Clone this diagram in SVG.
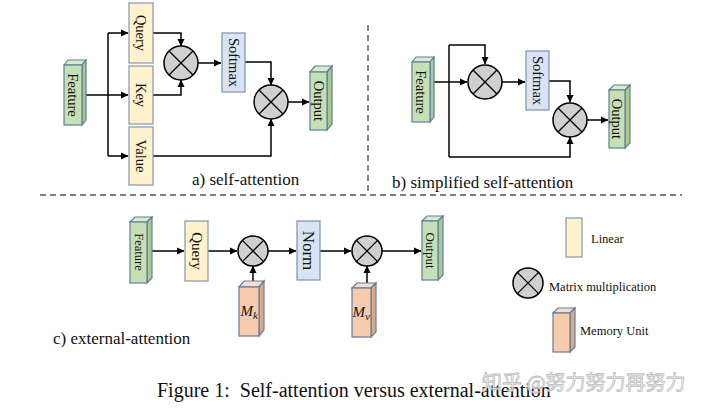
<svg xmlns="http://www.w3.org/2000/svg" width="720" height="413" viewBox="0 0 720 413" font-family="'Liberation Serif','Times New Roman',serif">
<defs>
<marker id="ah" markerUnits="userSpaceOnUse" markerWidth="8" markerHeight="8" refX="7" refY="4" orient="auto">
<path d="M0,0.5 L7.5,4 L0,7.5 z" fill="#000"/>
</marker>
<style>
.conn path{fill:none;stroke:#000;stroke-width:1.5;marker-end:url(#ah)}
.conn .nb{marker-end:none}
.lin{fill:#fff2cc;stroke:#8497b0;stroke-width:1.2}
.nrm{fill:#dae3f3;stroke:#7f8fb0;stroke-width:1.2}
.gf{fill:#c5e0b4;stroke:#5f7f9f;stroke-width:1.2}
.gs{fill:#a9c98e;stroke:#5f7f9f;stroke-width:1.2}
.gt{fill:#d8ecc8;stroke:#5f7f9f;stroke-width:1.2}
.mf{fill:#f8cbad;stroke:#5f7f9f;stroke-width:1.2}
.ms{fill:#dba88a;stroke:#5f7f9f;stroke-width:1.2}
.mt{fill:#fadcc6;stroke:#5f7f9f;stroke-width:1.2}
.mul circle{fill:#d0d0d0;stroke:#000;stroke-width:1.5}
.mul path{stroke:#000;stroke-width:1.3;fill:none}
text{font-family:"Liberation Serif","Times New Roman",serif;fill:#111}
.vt{font-family:"Liberation Serif","Times New Roman",serif;font-size:14.5px;text-anchor:middle;dominant-baseline:central}
.lab{font-family:"Liberation Serif","Times New Roman",serif;font-size:17px}
.leg{font-family:"Liberation Serif","Times New Roman",serif;font-size:12.5px}
.dash{stroke:#555;stroke-width:1.4;stroke-dasharray:6,4;fill:none}
</style>
</defs>
<rect width="720" height="413" fill="#fff"/>

<!-- dashed separators -->
<path class="dash" d="M368,25 V191"/>
<path class="dash" d="M40,195 H682"/>

<g class="conn">
<!-- a -->
<path d="M86,95 H128"/>
<path class="nb" d="M108,95 V33"/>
<path d="M108,33 H128"/>
<path class="nb" d="M108,95 V156"/>
<path d="M108,156 H128"/>
<path d="M153,33 H181 V46"/>
<path d="M153,95 H181 V80"/>
<path d="M198,63 H221"/>
<path d="M245,62 H271 V85"/>
<path d="M153,156 H271 V119"/>
<path d="M288,102 H309"/>
<!-- b -->
<path d="M433,82 H467"/>
<path class="nb" d="M449,82 V45"/>
<path d="M449,45 H485 V64"/>
<path class="nb" d="M449,82 V157"/>
<path d="M449,157 H570 V137"/>
<path d="M502,82 H525"/>
<path d="M549,81 H570 V102"/>
<path d="M587,120 H608"/>
<!-- c -->
<path d="M152,251 H184"/>
<path d="M208,251 H237"/>
<path d="M268,251 H296"/>
<path d="M320,251 H351"/>
<path d="M382,251 H421"/>
<path d="M253,282 V266"/>
<path d="M367,283 V266"/>
</g>

<!-- a) self-attention -->
<g id="a-feature">
<path class="gt" d="M64,65 L68,60 L86,60 L82,65 z"/>
<path class="gs" d="M82,65 L86,60 L86,120 L82,125 z"/>
<rect class="gf" x="64" y="65" width="18" height="60"/>
<text class="vt" transform="translate(73,95) rotate(90)">Feature</text>
</g>
<g id="a-query"><rect class="lin" x="129" y="3" width="24" height="60"/><text class="vt" transform="translate(141,33) rotate(90)">Query</text></g>
<g id="a-key"><rect class="lin" x="129" y="66" width="24" height="58"/><text class="vt" transform="translate(141,95) rotate(90)">Key</text></g>
<g id="a-value"><rect class="lin" x="129" y="127" width="24" height="58"/><text class="vt" transform="translate(141,156) rotate(90)">Value</text></g>
<g id="a-mul1" class="mul"><circle cx="181" cy="63" r="17"/><path d="M169,51 L193,75 M193,51 L169,75"/></g>
<g id="a-softmax"><rect class="nrm" x="222" y="33" width="23" height="59"/><text class="vt" transform="translate(233.5,62.5) rotate(90)">Softmax</text></g>
<g id="a-mul2" class="mul"><circle cx="271" cy="102" r="17"/><path d="M259,90 L283,114 M283,90 L259,114"/></g>
<g id="a-output">
<path class="gt" d="M310,72 L315,66 L332,66 L327,72 z"/>
<path class="gs" d="M327,72 L332,66 L332,124 L327,130 z"/>
<rect class="gf" x="310" y="72" width="17" height="58"/>
<text class="vt" transform="translate(318.5,101) rotate(90)">Output</text>
</g>
<text class="lab" x="192" y="185">a) self-attention</text>

<!-- b) simplified self-attention -->
<g id="b-feature">
<path class="gt" d="M412,62 L416,57 L434,57 L430,62 z"/>
<path class="gs" d="M430,62 L434,57 L434,117 L430,122 z"/>
<rect class="gf" x="412" y="62" width="18" height="60"/>
<text class="vt" transform="translate(421,92) rotate(90)">Feature</text>
</g>
<g id="b-mul1" class="mul"><circle cx="485" cy="82" r="17"/><path d="M473,70 L497,94 M497,70 L473,94"/></g>
<g id="b-softmax"><rect class="nrm" x="526" y="51" width="23" height="59"/><text class="vt" transform="translate(537.5,80.5) rotate(90)">Softmax</text></g>
<g id="b-mul2" class="mul"><circle cx="570" cy="120" r="17"/><path d="M558,108 L582,132 M582,108 L558,132"/></g>
<g id="b-output">
<path class="gt" d="M609,90 L614,85 L630,85 L625,90 z"/>
<path class="gs" d="M625,90 L630,85 L630,143 L625,148 z"/>
<rect class="gf" x="609" y="90" width="16" height="58"/>
<text class="vt" transform="translate(617,119) rotate(90)">Output</text>
</g>
<text class="lab" x="392" y="188">b) simplified self-attention</text>

<!-- c) external-attention -->
<g id="c-feature">
<path class="gt" d="M130,222 L135,217 L152,217 L147,222 z"/>
<path class="gs" d="M147,222 L152,217 L152,278 L147,283 z"/>
<rect class="gf" x="130" y="222" width="17" height="61"/>
<text class="vt" style="font-size:12.5px" transform="translate(138.5,252) rotate(90)">Feature</text>
</g>
<g id="c-query"><rect class="lin" x="185" y="221" width="23" height="60"/><text class="vt" style="font-size:15px" transform="translate(196.5,251) rotate(90)">Query</text></g>
<g id="c-mul1" class="mul"><circle cx="253" cy="251" r="15"/><path d="M242.4,240.4 L263.6,261.6 M263.6,240.4 L242.4,261.6"/></g>
<g id="c-norm"><rect class="nrm" x="297" y="221" width="23" height="59"/><text class="vt" style="font-size:17px" transform="translate(308.5,250.5) rotate(90)">Norm</text></g>
<g id="c-mul2" class="mul"><circle cx="367" cy="251" r="15"/><path d="M356.4,240.4 L377.6,261.6 M377.6,240.4 L356.4,261.6"/></g>
<g id="c-output">
<path class="gt" d="M422,221 L427,216 L443,216 L438,221 z"/>
<path class="gs" d="M438,221 L443,216 L443,275 L438,280 z"/>
<rect class="gf" x="422" y="221" width="16" height="59"/>
<text class="vt" style="font-size:13px" transform="translate(430,250.5) rotate(90)">Output</text>
</g>
<g id="c-mk">
<path class="mt" d="M239,287 L244,281 L264,281 L259,287 z"/>
<path class="ms" d="M259,287 L264,281 L264,330 L259,336 z"/>
<rect class="mf" x="239" y="287" width="20" height="49"/>
<text x="240.5" y="316" style="font-size:15px;font-style:italic">M<tspan style="font-size:11px" dy="3">k</tspan></text>
</g>
<g id="c-mv">
<path class="mt" d="M352,288 L357,283 L376,283 L371,288 z"/>
<path class="ms" d="M371,288 L376,283 L376,332 L371,337 z"/>
<rect class="mf" x="352" y="288" width="19" height="49"/>
<text x="352.5" y="317" style="font-size:15px;font-style:italic">M<tspan style="font-size:11px" dy="3">v</tspan></text>
</g>
<text class="lab" x="53" y="344">c) external-attention</text>

<!-- legend -->
<g id="legend-linear"><rect class="lin" x="566" y="218" width="16" height="39"/><text class="leg" x="591" y="243">Linear</text></g>
<g id="legend-mul" class="mul"><circle cx="528" cy="283" r="15"/><path d="M517.4,272.4 L538.6,293.6 M538.6,272.4 L517.4,293.6"/></g>
<text class="leg" x="549" y="291">Matrix multiplication</text>
<g id="legend-memory">
<path class="mt" d="M553,313 L558,308 L575,308 L570,313 z"/>
<path class="ms" d="M570,313 L575,308 L575,347 L570,352 z"/>
<rect class="mf" x="553" y="313" width="17" height="39"/>
<text class="leg" x="580" y="335">Memory Unit</text>
</g>

<!-- caption -->
<text x="157" y="397" style="font-size:20px" xml:space="preserve">Figure 1:  Self-attention versus external-attention</text>
<text x="482" y="390" style="font-family:'Noto Sans CJK SC',sans-serif;font-size:20px;fill:#fff;stroke:#b5b5b5;stroke-width:0.8;opacity:0.9">知乎 @努力努力再努力</text>
</svg>
